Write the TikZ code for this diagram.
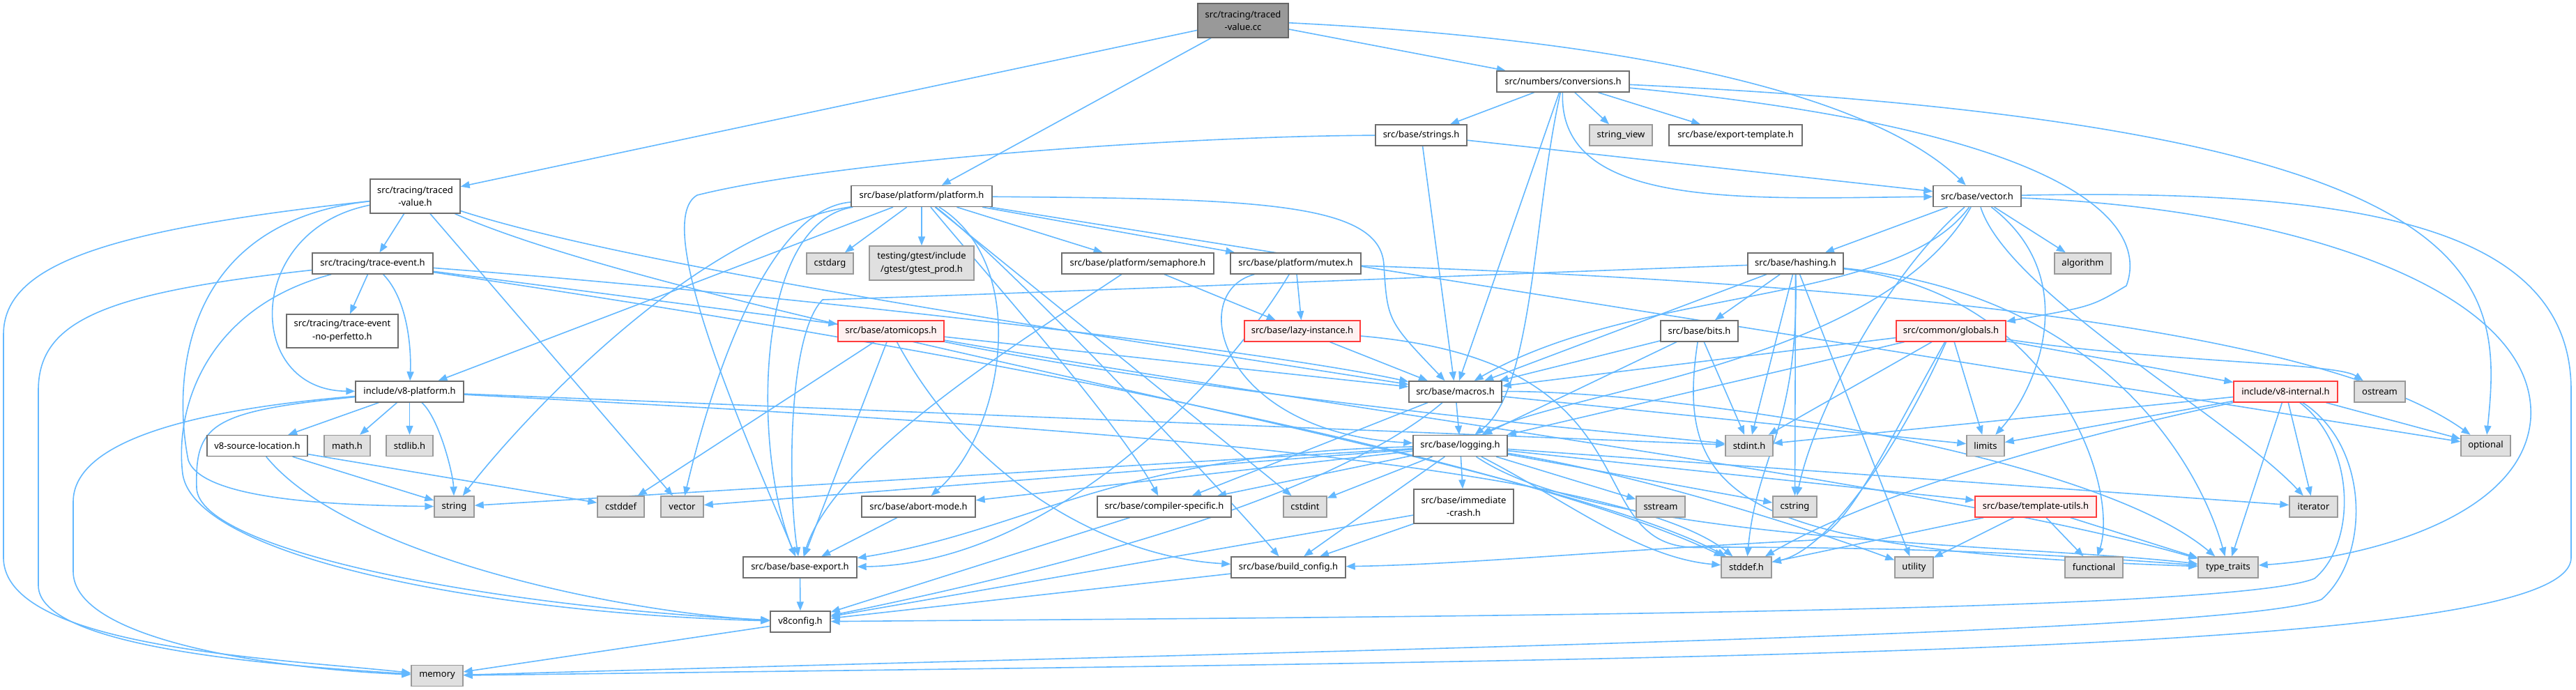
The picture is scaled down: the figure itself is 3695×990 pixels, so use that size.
\documentclass[tikz,border=0pt]{standalone}
\usepackage{fontspec}
\newfontfamily\dxfont{Noto Sans}
\usetikzlibrary{arrows.meta, backgrounds}
\definecolor{boxgray}{RGB}{110,110,110}
\definecolor{sysgray}{RGB}{224,224,224}
\definecolor{sysborder}{RGB}{153,153,153}
\definecolor{rootgray}{RGB}{153,153,153}
\definecolor{rootborder}{RGB}{102,102,102}
\definecolor{truncred}{RGB}{255,60,60}
\definecolor{truncpink}{RGB}{255,240,240}
\definecolor{linkblue}{RGB}{99,184,255}

\tikzset{
  box/.style={rectangle, line width=1.4pt, inner sep=0pt, minimum height=30pt,
    align=center, font=\dxfont\fontsize{13}{18.5}\selectfont},
  hfile/.style={box, draw=boxgray, fill=white},
  sysfile/.style={box, draw=sysborder, fill=sysgray},
  rootfile/.style={box, draw=rootborder, fill=rootgray},
  trunc/.style={box, draw=truncred, fill=truncpink},
  incl/.style={draw=linkblue, line width=1.6pt, -{Triangle[length=13pt,width=10pt]}}
}

\begin{document}
\begin{tikzpicture}[x=1pt, y=-1pt]
  \useasboundingbox (0,0) rectangle (3695,990);

  % files
  \node[rootfile, minimum width=130pt, minimum height=49pt] (tvcc) at (1783,29.5) {src/tracing/traced\\-value.cc};
  \node[hfile, minimum width=129pt, minimum height=49pt] (tvh) at (595.5,281.5) {src/tracing/traced\\-value.h};
  \node[hfile, minimum width=202pt] (platform) at (1322,281.5) {src/base/platform/platform.h};
  \node[hfile, minimum width=190pt] (conv) at (2242,117) {src/numbers/conversions.h};
  \node[hfile, minimum width=131pt] (strings) at (2038.5,194) {src/base/strings.h};
  \node[sysfile, minimum width=90pt] (strview) at (2325,194) {string\_view};
  \node[hfile, minimum width=191pt] (exptmpl) at (2489.5,194) {src/base/export-template.h};
  \node[hfile, minimum width=126pt] (vech) at (2836,281.5) {src/base/vector.h};
  \node[hfile, minimum width=173pt] (tevent) at (534.5,378) {src/tracing/trace-event.h};
  \node[hfile, minimum width=160pt, minimum height=48pt] (noperf) at (491,475) {src/tracing/trace-event\\-no-perfetto.h};
  \node[hfile, minimum width=155pt] (v8plat) at (587.5,562) {include/v8-platform.h};
  \node[hfile, minimum width=144pt] (srcloc) at (369,639.5) {v8-source-location.h};
  \node[sysfile, minimum width=66pt] (mathh) at (498,639.5) {math.h};
  \node[sysfile, minimum width=67pt] (stdlibh) at (587.5,639.5) {stdlib.h};
  \node[sysfile, minimum width=67pt] (cstdarg) at (1190.5,378) {cstdarg};
  \node[sysfile, minimum width=150pt, minimum height=49pt] (gtest) at (1322,377.5) {testing/gtest/include\\/gtest/gtest\_prod.h};
  \node[hfile, minimum width=218pt] (sema) at (1632,378) {src/base/platform/semaphore.h};
  \node[hfile, minimum width=187pt] (mutex) at (1858.5,378) {src/base/platform/mutex.h};
  \node[trunc, minimum width=152pt] (atomic) at (1278,475) {src/base/atomicops.h};
  \node[trunc, minimum width=166pt] (lazy) at (1868,475) {src/base/lazy-instance.h};
  \node[hfile, minimum width=137pt] (hashing) at (2575.5,378) {src/base/hashing.h};
  \node[hfile, minimum width=111pt] (bits) at (2437.5,475) {src/base/bits.h};
  \node[hfile, minimum width=133pt] (macros) at (2087.5,562) {src/base/macros.h};
  \node[hfile, minimum width=135pt] (logging) at (2094.5,639.5) {src/base/logging.h};
  \node[sysfile, minimum width=68pt] (stdinth) at (2509,639.5) {stdint.h};
  \node[trunc, minimum width=157pt] (globals) at (2798.5,475) {src/common/globals.h};
  \node[sysfile, minimum width=81pt] (algo) at (2987.5,378) {algorithm};
  \node[trunc, minimum width=149pt] (v8int) at (3278.5,562) {include/v8-internal.h};
  \node[sysfile, minimum width=73pt] (ostream) at (3413.5,562) {ostream};
  \node[sysfile, minimum width=54pt] (limits) at (2848,639.5) {limits};
  \node[sysfile, minimum width=71pt] (optional) at (3565.5,639.5) {optional};
  \node[sysfile, minimum width=57pt] (string) at (651.5,727) {string};
  \node[sysfile, minimum width=67pt] (cstddef) at (890.5,727) {cstddef};
  \node[sysfile, minimum width=74pt] (memory) at (627,969.5) {memory};
  \node[sysfile, minimum width=61pt] (vector) at (978.5,727) {vector};
  \node[hfile, minimum width=163pt] (abort) at (1317.5,727) {src/base/abort-mode.h};
  \node[hfile, minimum width=192pt] (compiler) at (1670,727) {src/base/compiler-specific.h};
  \node[hfile, minimum width=163pt] (bexport) at (1147.5,814) {src/base/base-export.h};
  \node[hfile, minimum width=86pt] (v8config) at (1148,892) {v8config.h};
  \node[hfile, minimum width=164pt] (buildcfg) at (1848,814) {src/base/build\_config.h};
  \node[sysfile, minimum width=62pt] (cstdint) at (1872,727) {cstdint};
  \node[hfile, minimum width=143pt, minimum height=49pt] (crash) at (2099.5,726.5) {src/base/immediate\\-crash.h};
  \node[sysfile, minimum width=70pt] (sstream) at (2382,727) {sstream};
  \node[sysfile, minimum width=63pt] (cstring) at (2574.5,727) {cstring};
  \node[sysfile, minimum width=72pt] (stddefh) at (2505,814) {stddef.h};
  \node[sysfile, minimum width=55pt] (utility) at (2745.5,814) {utility};
  \node[trunc, minimum width=174pt] (tutils) at (2920,727) {src/base/template-utils.h};
  \node[sysfile, minimum width=69pt] (iterator) at (3318.5,727) {iterator};
  \node[sysfile, minimum width=83pt] (functional) at (3003.5,814) {functional};
  \node[sysfile, minimum width=86pt] (traits) at (3196,814) {type\_traits};

  \begin{scope}[on background layer]
    % traced-value.cc
    \draw[incl] (tvcc) -- (tvh);
    \draw[incl] (tvcc) -- (platform);
    \draw[incl] (tvcc) -- (conv);
    \draw[incl] (tvcc) .. controls (2400,60) and (2700,150) .. (vech);

    % traced-value.h
    \draw[incl] (tvh) .. controls (150,330) and (5,380) .. (5,480) -- (5,800) .. controls (5,930) and (400,945) .. (memory);
    \draw[incl] (tvh) .. controls (250,320) and (250,560) .. (270,660) .. controls (290,720) and (500,725) .. (string);
    \draw[incl] (tvh) .. controls (350,330) and (350,560) .. (v8plat);
    \draw[incl] (tvh) -- (tevent);
    \draw[incl] (tvh) -- (vector);
    \draw[incl] (tvh) .. controls (900,380) and (1500,470) .. (macros);
    \draw[incl] (tvh) .. controls (1000,460) and (2200,650) .. (stddefh);

    % platform.h
    \draw[incl] (platform) -- (v8plat);
    \draw[incl] (platform) .. controls (1000,330) and (750,600) .. (string);
    \draw[incl] (platform) .. controls (1100,300) and (1020,550) .. (vector);
    \draw[incl] (platform) .. controls (1080,320) and (1080,650) .. (bexport);
    \draw[incl] (platform) .. controls (1480,380) and (1440,620) .. (abort);
    \draw[incl] (platform) -- (cstdint);
    \draw[incl] (platform) .. controls (1450,380) and (1750,700) .. (buildcfg);
    \draw[incl] (platform) .. controls (1420,400) and (1600,600) .. (compiler);
    \draw[incl] (platform) .. controls (1800,285) and (1980,290) .. (1985,380) .. controls (1990,460) .. (macros);
    \draw[incl] (platform) -- (cstdarg);
    \draw[incl] (platform) -- (gtest);
    \draw[incl] (platform) -- (sema);
    \draw[incl] (platform) -- (mutex);
    \draw[incl] (platform) -- (optional);

    % conversions.h
    \draw[incl] (conv) -- (strings);
    \draw[incl] (conv) -- (strview);
    \draw[incl] (conv) -- (exptmpl);
    \draw[incl] (conv) .. controls (2200,300) and (2200,560) .. (logging);
    \draw[incl] (conv) -- (macros);
    \draw[incl] (conv) .. controls (2235,300) and (2500,285) .. (vech);
    \draw[incl] (conv) .. controls (3000,190) and (3080,330) .. (3050,410) .. controls (3000,440) .. (globals);
    \draw[incl] (conv) .. controls (3590,180) and (3590,400) .. (optional);

    % strings.h
    \draw[incl] (strings) .. controls (1700,195) and (1200,230) .. (1000,280) .. controls (930,320) and (1080,650) .. (bexport);
    \draw[incl] (strings) -- (macros);
    \draw[incl] (strings) -- (vech);

    % vector.h
    \draw[incl] (vech) -- (algo);
    \draw[incl] (vech) -- (hashing);
    \draw[incl] (vech) .. controls (2720,440) and (2350,410) .. (macros);
    \draw[incl] (vech) .. controls (2700,520) and (2250,560) .. (logging);
    \draw[incl] (vech) .. controls (2700,400) and (2600,600) .. (cstring);
    \draw[incl] (vech) .. controls (2880,420) and (3200,600) .. (iterator);
    \draw[incl] (vech) .. controls (2990,400) and (2920,560) .. (limits);
    \draw[incl] (vech) .. controls (3400,270) and (3688,330) .. (3688,560) -- (3688,800) .. controls (3688,940) and (2500,945) .. (memory);
    \draw[incl] (vech) .. controls (3300,300) and (3640,420) .. (3630,600) .. controls (3620,740) and (3400,800) .. (traits);

    % trace-event.h
    \draw[incl] (tevent) .. controls (150,420) and (55,460) .. (55,560) -- (55,840) .. controls (55,930) and (400,955) .. (memory);
    \draw[incl] (tevent) .. controls (300,440) and (250,580) .. (262,680) .. controls (280,800) and (700,880) .. (v8config);
    \draw[incl] (tevent) -- (noperf);
    \draw[incl] (tevent) .. controls (585,430) and (590,500) .. (v8plat);
    \draw[incl] (tevent) -- (atomic);
    \draw[incl] (tevent) .. controls (1100,420) and (1800,500) .. (macros);
    \draw[incl] (tevent) .. controls (1500,520) and (2200,670) .. (stddefh);

    % v8-platform.h
    \draw[incl] (v8plat) .. controls (250,590) and (105,640) .. (105,720) -- (105,820) .. controls (105,920) and (400,960) .. (memory);
    \draw[incl] (v8plat) .. controls (300,590) and (280,610) .. (282,700) .. controls (285,790) and (700,870) .. (v8config);
    \draw[incl] (v8plat) -- (srcloc);
    \draw[incl] (v8plat) -- (mathh);
    \draw[incl] (v8plat) -- (stdlibh);
    \draw[incl] (v8plat) .. controls (630,600) and (650,680) .. (string);
    \draw[incl] (v8plat) -- (stdinth);
    \draw[incl] (v8plat) .. controls (1300,600) and (2300,650) .. (stddefh);

    % v8-source-location.h
    \draw[incl] (srcloc) -- (cstddef);
    \draw[incl] (srcloc) -- (string);
    \draw[incl] (srcloc) .. controls (500,800) and (900,880) .. (v8config);

    % semaphore.h, mutex.h
    \draw[incl] (sema) .. controls (1480,480) and (1200,650) .. (bexport);
    \draw[incl] (sema) -- (lazy);
    \draw[incl] (mutex) .. controls (1750,560) and (1500,810) .. (bexport);
    \draw[incl] (mutex) .. controls (1700,420) and (1750,620) .. (logging);
    \draw[incl] (mutex) -- (lazy);
    \draw[incl] (mutex) .. controls (2500,400) and (3300,450) .. (optional);

    % atomicops.h
    \draw[incl] (atomic) -- (cstddef);
    \draw[incl] (atomic) -- (bexport);
    \draw[incl] (atomic) .. controls (1400,700) and (1600,800) .. (buildcfg);
    \draw[incl] (atomic) -- (macros);
    \draw[incl] (atomic) .. controls (1700,560) and (2200,610) .. (stdinth);
    \draw[incl] (atomic) .. controls (2000,600) and (2800,700) .. (traits);

    % lazy-instance.h
    \draw[incl] (lazy) -- (macros);
    \draw[incl] (lazy) .. controls (2400,520) and (2250,800) .. (2450,785) .. controls (2800,785) and (3000,800) .. (traits);

    % hashing.h
    \draw[incl] (hashing) .. controls (2100,395) and (1500,420) .. (1180,430) .. controls (1130,480) and (1130,700) .. (bexport);
    \draw[incl] (hashing) -- (bits);
    \draw[incl] (hashing) -- (macros);
    \draw[incl] (hashing) -- (stdinth);
    \draw[incl] (hashing) -- (cstring);
    \draw[incl] (hashing) .. controls (2580,620) and (2520,650) .. (stddefh);
    \draw[incl] (hashing) .. controls (2950,420) and (3040,700) .. (functional);
    \draw[incl] (hashing) .. controls (3000,420) and (3150,650) .. (traits);
    \draw[incl] (hashing) -- (utility);

    % bits.h
    \draw[incl] (bits) -- (macros);
    \draw[incl] (bits) -- (logging);
    \draw[incl] (bits) -- (stdinth);
    \draw[incl] (bits) .. controls (2400,720) and (2500,790) .. (traits);

    % globals.h
    \draw[incl] (globals) .. controls (3100,520) and (3350,520) .. (ostream);
    \draw[incl] (globals) -- (v8int);
    \draw[incl] (globals) -- (limits);
    \draw[incl] (globals) -- (macros);
    \draw[incl] (globals) -- (logging);
    \draw[incl] (globals) -- (stdinth);
    \draw[incl] (globals) .. controls (2720,650) and (2620,790) .. (stddefh);
    \draw[incl] (globals) .. controls (2700,650) and (2650,760) .. (2600,775) .. controls (2300,790) and (2100,810) .. (buildcfg);

    % v8-internal.h
    \draw[incl] (v8int) .. controls (3000,620) and (2700,700) .. (stddefh);
    \draw[incl] (v8int) -- (stdinth);
    \draw[incl] (v8int) -- (limits);
    \draw[incl] (v8int) -- (iterator);
    \draw[incl] (v8int) -- (traits);
    \draw[incl] (v8int) -- (optional);
    \draw[incl] (v8int) .. controls (3400,640) and (3400,800) .. (3330,860) .. controls (3200,910) and (2000,930) .. (memory);
    \draw[incl] (v8int) .. controls (3380,640) and (3380,780) .. (3320,830) .. controls (3200,880) and (2000,885) .. (v8config);

    % template-utils.h
    \draw[incl] (tutils) -- (stddefh);
    \draw[incl] (tutils) -- (utility);
    \draw[incl] (tutils) -- (functional);
    \draw[incl] (tutils) -- (traits);

    % logging.h
    \draw[incl] (logging) -- (cstdint);
    \draw[incl] (logging) -- (cstring);
    \draw[incl] (logging) -- (iterator);
    \draw[incl] (logging) -- (sstream);
    \draw[incl] (logging) -- (string);
    \draw[incl] (logging) -- (vector);
    \draw[incl] (logging) -- (abort);
    \draw[incl] (logging) .. controls (1600,650) and (1480,760) .. (bexport);
    \draw[incl] (logging) -- (buildcfg);
    \draw[incl] (logging) -- (compiler);
    \draw[incl] (logging) -- (crash);
    \draw[incl] (logging) -- (tutils);
    \draw[incl] (logging) .. controls (2250,720) and (2350,800) .. (stddefh);
    \draw[incl] (logging) .. controls (2300,780) and (2900,780) .. (traits);
    \draw[incl] (logging) .. controls (2350,680) and (2600,760) .. (utility);

    % macros.h
    \draw[incl] (macros) -- (logging);
    \draw[incl] (macros) -- (compiler);
    \draw[incl] (macros) .. controls (1900,720) and (1500,820) .. (v8config);
    \draw[incl] (macros) .. controls (2400,560) and (3000,650) .. (traits);
    \draw[incl] (macros) -- (limits);

    % the rest
    \draw[incl] (crash) -- (buildcfg);
    \draw[incl] (crash) -- (v8config);
    \draw[incl] (abort) -- (bexport);
    \draw[incl] (compiler) -- (v8config);
    \draw[incl] (bexport) -- (v8config);
    \draw[incl] (buildcfg) -- (v8config);
    \draw[incl] (v8config) -- (memory);
  \end{scope}
\end{tikzpicture}
\end{document}
